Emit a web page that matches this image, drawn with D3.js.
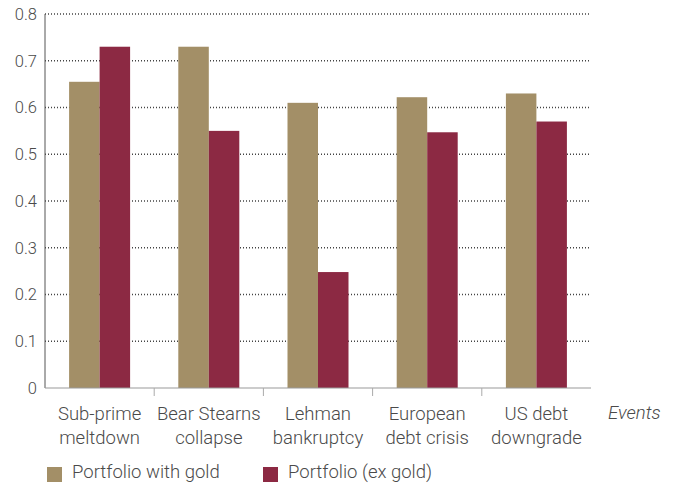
<!DOCTYPE html>
<html>
<head>
<meta charset="utf-8">
<script src="https://cdn.jsdelivr.net/npm/d3@7"></script>
<style>
  html, body { margin: 0; padding: 0; background: #fff; }
  svg { display: block; font-family: Roboto, "Liberation Sans", sans-serif; font-weight: 300; }
</style>
</head>
<body>
<svg id="chart" width="683" height="488"></svg>
<script>
// Event categories (two-line labels)
const events = [
  ["Sub-prime", "meltdown"],
  ["Bear Stearns", "collapse"],
  ["Lehman", "bankruptcy"],
  ["European", "debt crisis"],
  ["US debt", "downgrade"]
];
const seriesNames = ["Portfolio with gold", "Portfolio (ex gold)"];
const withGold = [0.655, 0.73, 0.61, 0.622, 0.63];
const exGold   = [0.73, 0.55, 0.248, 0.547, 0.57];
const yTicks = [0, 0.1, 0.2, 0.3, 0.4, 0.5, 0.6, 0.7, 0.8];
const colors = ["#a38f67", "#8c2943"];

const svg = d3.select("#chart");
const textColor = "#4a4a4a";
const labelSize = 18.5;

const x = d3.scaleBand().domain(d3.range(events.length)).range([45, 591]).paddingInner(0).paddingOuter(0);
const y = d3.scaleLinear().domain([0, 0.8]).range([388, 14]);
const barW = 30.5;

// dotted horizontal gridlines
svg.append("g").selectAll("line").data(yTicks.filter(d => d > 0)).join("line")
  .attr("x1", 45).attr("x2", 591)
  .attr("y1", d => y(d)).attr("y2", d => y(d))
  .attr("stroke", "#444").attr("stroke-width", 1.3).attr("stroke-dasharray", "1,2");

// y tick labels
svg.append("g").selectAll("text").data(yTicks).join("text")
  .attr("x", 37).attr("y", d => y(d)).attr("dy", "0.36em")
  .attr("text-anchor", "end").attr("font-size", 16.5).attr("fill", textColor)
  .text(d => d === 0 ? "0" : d3.format(".1f")(d));

// bars
const series = [withGold, exGold];
series.forEach((vals, si) => {
  svg.append("g").selectAll("rect").data(vals).join("rect")
    .attr("x", (d, i) => x(i) + x.bandwidth() / 2 - barW + si * barW)
    .attr("y", d => y(d))
    .attr("width", barW)
    .attr("height", d => y(0) - y(d))
    .attr("fill", colors[si]);
});

// axes lines
svg.append("line").attr("x1", 45).attr("x2", 45).attr("y1", y(0.8)).attr("y2", y(0))
  .attr("stroke", "#555").attr("stroke-width", 1);
svg.append("line").attr("x1", 45).attr("x2", 591).attr("y1", y(0)).attr("y2", y(0))
  .attr("stroke", "#999").attr("stroke-width", 1.2);

// category separator ticks
svg.append("g").selectAll("line").data(d3.range(1, events.length)).join("line")
  .attr("x1", d => x(d)).attr("x2", d => x(d))
  .attr("y1", y(0)).attr("y2", y(0) + 8)
  .attr("stroke", "#aaa").attr("stroke-width", 1);

// category labels
const cat = svg.append("g").selectAll("text").data(events).join("text")
  .attr("x", (d, i) => x(i) + x.bandwidth() / 2)
  .attr("y", 420).attr("text-anchor", "middle")
  .attr("font-size", labelSize).attr("fill", textColor);
cat.append("tspan").attr("x", (d, i) => x(i) + x.bandwidth() / 2).text(d => d[0]);
cat.append("tspan").attr("x", (d, i) => x(i) + x.bandwidth() / 2).attr("dy", 23.5).text(d => d[1]);

// axis title
svg.append("text").attr("x", 608).attr("y", 419)
  .attr("font-size", labelSize).attr("font-style", "italic").attr("fill", textColor)
  .text("Events");

// legend
const legendX = [47, 263];
const lg = svg.append("g").selectAll("g").data(seriesNames).join("g")
  .attr("transform", (d, i) => `translate(${legendX[i]},467)`);
lg.append("rect").attr("width", 15).attr("height", 15).attr("fill", (d, i) => colors[i]);
lg.append("text").attr("x", 25).attr("y", 11)
  .attr("font-size", labelSize).attr("fill", textColor).text(d => d);
</script>
</body>
</html>
